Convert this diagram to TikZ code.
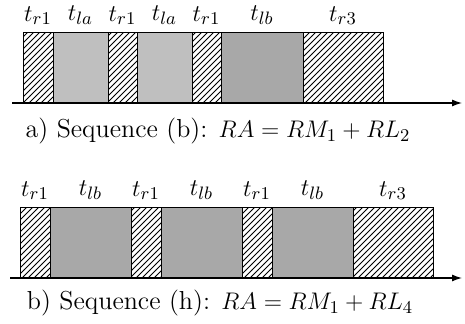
\documentclass[tikz,border=0pt]{standalone}
\usepackage{amsmath}
\usepackage{tikz}
\usetikzlibrary{arrows.meta,positioning,patterns}

\definecolor{lightslot}{gray}{0.75}
\definecolor{darkslot}{gray}{0.66}

\begin{document}
\begin{tikzpicture}[x=0.5pt,y=-0.5pt,font=\fontsize{13}{15}\selectfont,
    slot/.style={draw,line width=0.5pt,minimum height=35pt,inner sep=0pt,outer sep=0pt},
    hatch/.style={slot,pattern=north east lines},
    lgray/.style={slot,fill=lightslot},
    dgray/.style={slot,fill=darkslot},
    axis/.style={line width=0.6pt,-{Latex[length=5pt,width=3.5pt]}}]
    \useasboundingbox (0,0) rectangle (465,324);

    % a) Sequence (b)
    \coordinate (ax0) at (12,103);
    \coordinate (ax1) at (462,103);
    \draw[axis] (ax0) -- (ax1);
    \coordinate (a0) at (23,68);
    \foreach \sty/\w/\lab [count=\i, remember=\i as \j (initially 0)] in
        {hatch/15/r1, lgray/27.5/la, hatch/14.5/r1, lgray/27.5/la,
         hatch/14.5/r1, dgray/41/lb, hatch/40/r3} {
        \node[\sty,minimum width=\w pt,right=0pt of a\j] (a\i) {};
        \node[above=0.5pt of a\i] (la\i) {$t_{\lab}$};
    }
    \node (capa) at (218,131) {a) Sequence (b): $RA = RM_1 + RL_2$};

    % b) Sequence (h)
    \coordinate (bx0) at (10,278);
    \coordinate (bx1) at (462,278);
    \draw[axis] (bx0) -- (bx1);
    \coordinate (b0) at (20,243);
    \foreach \sty/\w/\lab [count=\i, remember=\i as \j (initially 0)] in
        {hatch/15/r1, dgray/40.5/lb, hatch/15/r1, dgray/40.5/lb,
         hatch/15/r1, dgray/40.5/lb, hatch/40/r3} {
        \node[\sty,minimum width=\w pt,right=0pt of b\j] (b\i) {};
        \node[above=0.5pt of b\i] (lb\i) {$t_{\lab}$};
    }
    \node (capb) at (220,303) {b) Sequence (h): $RA = RM_1 + RL_4$};
\end{tikzpicture}
\end{document}
